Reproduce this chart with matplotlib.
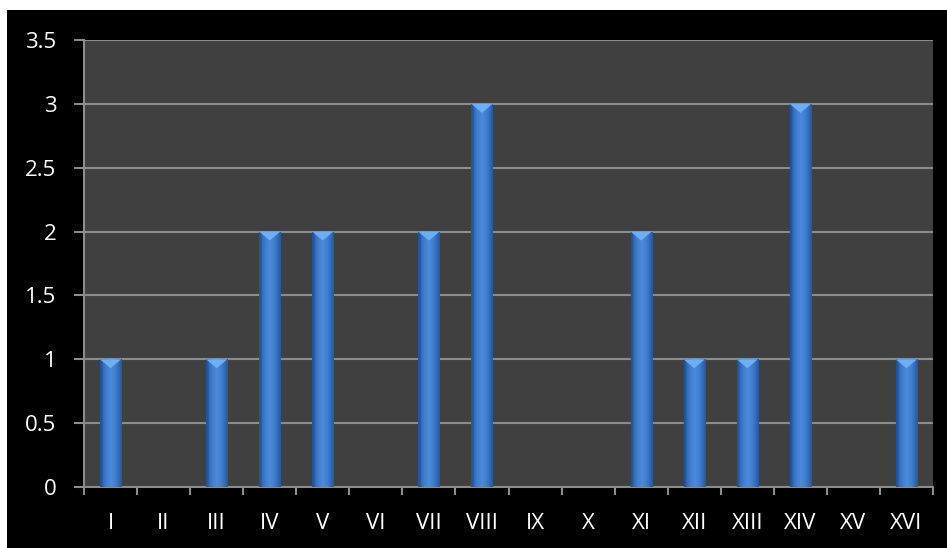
import matplotlib
matplotlib.use("Agg")
import matplotlib.pyplot as plt
import numpy as np
from matplotlib.colors import LinearSegmentedColormap
from matplotlib.patches import Polygon, Rectangle

categories = ["I", "II", "III", "IV", "V", "VI", "VII", "VIII", "IX", "X",
              "XI", "XII", "XIII", "XIV", "XV", "XVI"]
values = [1, 0, 1, 2, 2, 0, 2, 3, 0, 0, 2, 1, 1, 3, 0, 1]
yticks = [0, 0.5, 1, 1.5, 2, 2.5, 3, 3.5]
ytick_labels = ["0", "0.5", "1", "1.5", "2", "2.5", "3", "3.5"]

plt.rcParams['font.family'] = ['Open Sans', 'DejaVu Sans']

fig = plt.figure(figsize=(9.47, 5.48), dpi=100, facecolor="white")
# black background panel
bg = fig.add_axes([7/947, 0, 940/947, 538/548])
bg.set_facecolor("black")
bg.set_xticks([]); bg.set_yticks([])
for s in bg.spines.values():
    s.set_visible(False)

L, R, T, B = 84, 933, 40, 487
ax = fig.add_axes([L/947, 1 - B/548, (R-L)/947, (B-T)/548])
ax.set_facecolor("#404040")
ax.set_xlim(0, len(categories))
ax.set_ylim(0, 3.5)

for y in yticks[1:]:
    ax.axhline(y, color="#8c8c8c", lw=1.5, zorder=1)

cmap = LinearSegmentedColormap.from_list(
    "bar", ["#26589e", "#3d7acb", "#4c8cdc", "#3d7acb", "#26589e"])
grad = np.linspace(0, 1, 64).reshape(1, -1)
bw = 0.4
tri_h = 3.5 * 9 / (B - T)
for i, v in enumerate(values):
    if v <= 0:
        continue
    x0 = i + 0.5 - bw/2
    x1 = i + 0.5 + bw/2
    im = ax.imshow(grad, cmap=cmap, aspect="auto", extent=[x0, x1, 0, v],
                   zorder=3, interpolation="bicubic")
    rect = Rectangle((x0, 0), bw, v, transform=ax.transData)
    im.set_clip_path(rect)
    tri = Polygon([[x0, v], [x1, v], [i + 0.5, v - tri_h]], closed=True,
                  facecolor="#6eaef2", edgecolor="none", zorder=4)
    ax.add_patch(tri)
    ax.add_patch(Polygon([[x0, v], [x0 + bw*0.12, v - tri_h*0.3],
                          [x0 + bw*0.12, 0], [x0, 0]], closed=True,
                         facecolor="#1f4d8e", edgecolor="none", alpha=0.5, zorder=4))

ax.set_yticks(yticks)
ax.set_yticklabels(ytick_labels)
ax.set_xticks(np.arange(len(categories)) + 0.5)
ax.set_xticklabels(categories)
ax.set_xticks(np.arange(len(categories) + 1), minor=True)
ax.tick_params(axis="x", which="major", length=0, pad=19, labelsize=16)
ax.tick_params(axis="x", which="minor", length=6, width=1.5, color="#8c8c8c")
ax.tick_params(axis="y", length=7, width=1.5, color="#8c8c8c", pad=13,
               labelsize=16)
for lbl in ax.get_yticklabels() + ax.get_xticklabels():
    lbl.set_color("white")
for s in ["top", "right"]:
    ax.spines[s].set_visible(False)
for s in ["left", "bottom"]:
    ax.spines[s].set_color("#8c8c8c")
    ax.spines[s].set_linewidth(1.5)

fig.savefig("out.png", dpi=100, facecolor="white")
